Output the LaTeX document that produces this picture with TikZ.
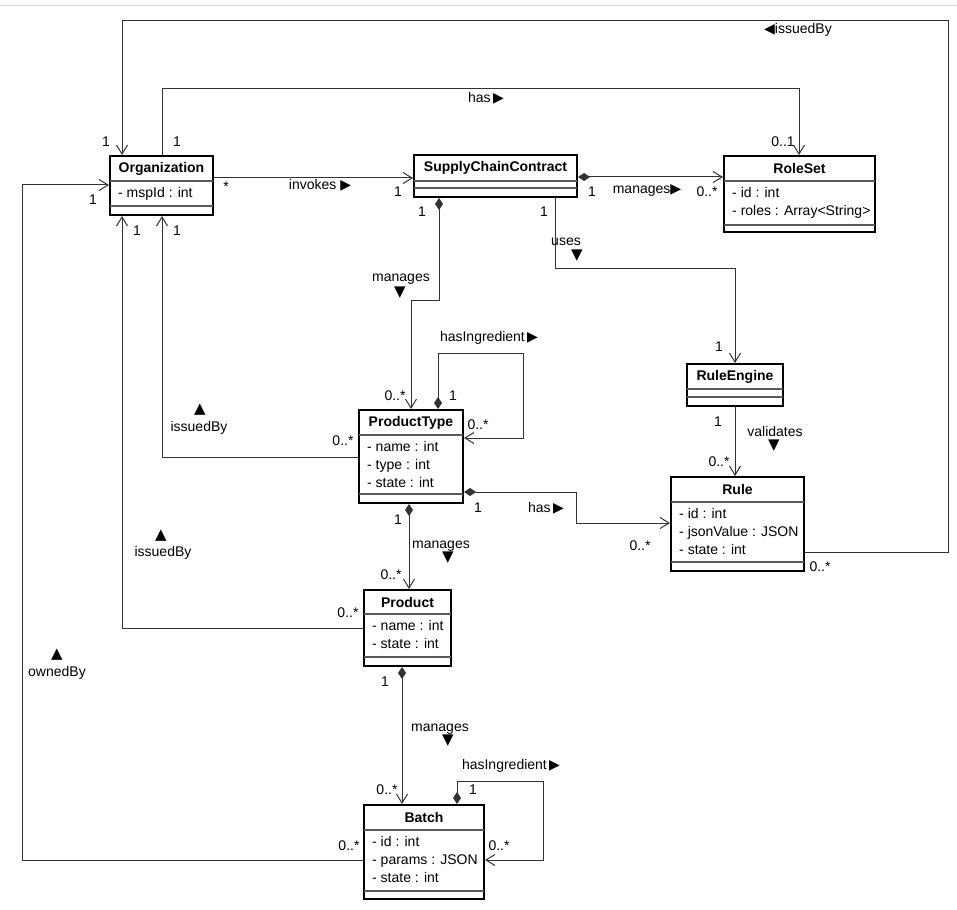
\documentclass[tikz,border=0pt]{standalone}
\usepackage{fontspec}
\setmainfont{Liberation Sans}
\newfontfamily\symf{DejaVu Sans}
\usetikzlibrary{arrows.meta,fit}

% UML class box: name, left, top, right, bottom, first and second compartment lines, title, attributes
\newcommand\umlclass[9]{%
  \node[classframe, fit={(#2,#3) (#4,#5)}] (#1) {};
  \draw[compline] (#2,#6) -- (#4,#6);
  \draw[compline] (#2,#7) -- (#4,#7);
  \node[classtitle] (#1-title) at ({(#2+#4)/2},{(#3+#6)/2}) {#8};
  \if\relax\detokenize{#9}\relax\else
    \foreach \attr [count=\k] in {#9} {
      \node[attr, anchor=west] (#1-attr\k) at (#2+8, #6+13+18*\k-18) {\attr};
    }
  \fi
}

\tikzset{
  every node/.style={font=\fontsize{14}{17}\selectfont},
  classframe/.style={draw=black, line width=2pt, inner sep=0pt},
  compline/.style={draw=black!65, line width=1.4pt},
  classtitle/.style={font=\fontsize{14}{17}\selectfont\bfseries, inner sep=0pt},
  attr/.style={inner sep=0pt, text height=10pt, text depth=3pt},
  lbl/.style={inner sep=0pt, text height=10pt, text depth=3pt},
  tri/.style={inner sep=0pt, font=\fontsize{15}{17}\selectfont\symf},
  assoc/.style={draw=black!80, line width=1pt, -{Straight Barb[length=9pt,width=11pt]}},
  comp/.style={assoc, {Diamond[length=12pt,width=8pt]}-{Straight Barb[length=9pt,width=11pt]}},
}

\begin{document}
\begin{tikzpicture}[x=1pt,y=-1pt]
\useasboundingbox (0,0) rectangle (957,909);
\draw[black!15, line width=1pt] (0,6) -- (957,6);

% classes
\umlclass{org}{110}{156}{213}{215}{181}{206}{Organization}{- mspId : int}
\umlclass{scc}{414}{155}{577}{197}{181}{188}{SupplyChainContract}{}
\umlclass{roleset}{724}{156}{875}{232}{181}{225}{RoleSet}{- id : int, - roles : Array<String>}
\umlclass{pt}{359}{410}{463}{503}{435}{494}{ProductType}{- name : int, - type : int, - state : int}
\umlclass{reng}{687}{364}{783}{406}{389}{397}{RuleEngine}{}
\umlclass{rule}{671}{477}{804}{571}{502}{562}{Rule}{- id : int, - jsonValue : JSON, - state : int}
\umlclass{product}{364}{590}{451}{666}{614}{657}{Product}{- name : int, - state : int}
\umlclass{batch}{364}{805}{484}{899}{830}{891}{Batch}{- id : int, - params : JSON, - state : int}

% associations
\draw[assoc] (rule.east |- 0,552) -| (948,21) -| (org.north -| 122,0);
\draw[assoc] (org.north -| 162,0) |- (799,89) -- (roleset.north -| 799,0);
\draw[assoc] (org.east |- 0,178) -- (scc.west |- 0,178);
\draw[comp] (scc.east |- 0,177) -- (roleset.west |- 0,177);
\draw[comp] (scc.south -| 439,0) |- (411,300) -- (pt.north -| 411,0);
\draw[assoc] (scc.south -| 555,0) |- (735,268) -- (reng.north -| 735,0);
\draw[comp] (pt.north -| 438,0) |- (523,353) |- (pt.east |- 0,438);
\draw[comp] (pt.east |- 0,492) -| (576,523) -- (rule.west |- 0,523);
\draw[assoc] (reng.south -| 735,0) -- (rule.north -| 735,0);
\draw[assoc] (pt.west |- 0,457) -| (org.south -| 162,0);
\draw[comp] (pt.south -| 409,0) -- (product.north -| 409,0);
\draw[assoc] (product.west |- 0,628) -| (org.south -| 122,0);
\draw[comp] (product.south -| 402,0) -- (batch.north -| 402,0);
\draw[comp] (batch.north -| 457,0) |- (543,781) |- (batch.east |- 0,860);
\draw[assoc] (batch.west |- 0,860) -| (22,185) -- (org.west |- 0,185);

% multiplicities
\node[lbl] (m1) at (106,143) {1};
\node[lbl] (m2) at (177,143) {1};
\node[lbl] (m3) at (93,201) {1};
\node[lbl] (m4) at (137,232) {1};
\node[lbl] (m5) at (177,232) {1};
\node[lbl] (m6) at (226,188) {*};
\node[lbl] (m7) at (398,193) {1};
\node[lbl] (m8) at (592,193) {1};
\node[lbl] (m9) at (707,193) {0..*};
\node[lbl] (m10) at (783,143) {0..1};
\node[lbl] (m11) at (422,213) {1};
\node[lbl] (m12) at (544,213) {1};
\node[lbl] (m13) at (395,397) {0..*};
\node[lbl] (m14) at (453,397) {1};
\node[lbl] (m15) at (478,426) {0..*};
\node[lbl] (m16) at (343,442) {0..*};
\node[lbl] (m17) at (719,348) {1};
\node[lbl] (m18) at (718,423) {1};
\node[lbl] (m19) at (719,463) {0..*};
\node[lbl] (m20) at (478,509) {1};
\node[lbl] (m21) at (640,547) {0..*};
\node[lbl] (m22) at (820,568) {0..*};
\node[lbl] (m23) at (398,521) {1};
\node[lbl] (m24) at (391,576) {0..*};
\node[lbl] (m25) at (348,614) {0..*};
\node[lbl] (m26) at (385,683) {1};
\node[lbl] (m27) at (387,791) {0..*};
\node[lbl] (m28) at (473,791) {1};
\node[lbl] (m29) at (349,847) {0..*};
\node[lbl] (m30) at (499,847) {0..*};

% role names
\node[lbl] (n-issued-top) at (798,30) {{\symf ◀}issuedBy};
\node[lbl] (n-has-top) at (486,99) {has\,{\symf ▶}};
\node[lbl] (n-invokes) at (320,186) {invokes {\symf ▶}};
\node[lbl] (n-manages-rs) at (647,190) {manages{\symf ▶}};
\node[lbl] (n-manages-pt) at (401,278) {manages};
\node[tri] (t-manages-pt) at (400,293) {▼};
\node[lbl] (n-uses) at (566,242) {uses};
\node[tri] (t-uses) at (577,256) {▼};
\node[lbl] (n-hasing-pt) at (489,338) {hasIngredient\,{\symf ▶}};
\node[tri] (t-issued-pt) at (200,410) {▲};
\node[lbl] (n-issued-pt) at (199,428) {issuedBy};
\node[lbl] (n-validates) at (775,433) {validates};
\node[tri] (t-validates) at (774,446) {▼};
\node[lbl] (n-has-rule) at (546,509) {has\,{\symf ▶}};
\node[tri] (t-issued-prod) at (161,536) {▲};
\node[lbl] (n-issued-prod) at (163,553) {issuedBy};
\node[lbl] (n-manages-prod) at (441,545) {manages};
\node[tri] (t-manages-prod) at (448,558) {▼};
\node[tri] (t-owned) at (57,655) {▲};
\node[lbl] (n-owned) at (57,673) {ownedBy};
\node[lbl] (n-manages-batch) at (440,728) {manages};
\node[tri] (t-manages-batch) at (448,741) {▼};
\node[lbl] (n-hasing-batch) at (511,766) {hasIngredient\,{\symf ▶}};
\end{tikzpicture}
\end{document}
